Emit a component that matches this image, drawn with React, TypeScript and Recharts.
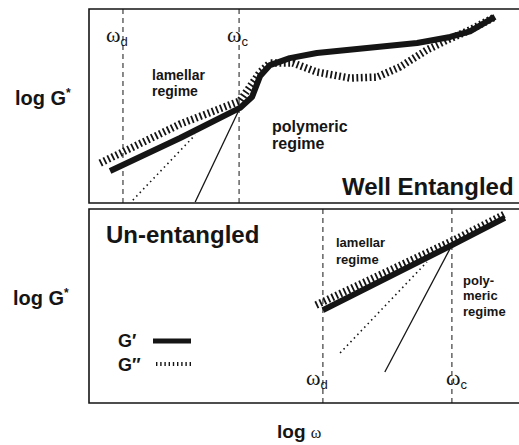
import React from "react";
import {
  ComposedChart,
  Line,
  XAxis,
  YAxis,
  ReferenceLine,
  ReferenceArea,
} from "recharts";

type Pt = { x: number; y: number };

// log ω runs 0..10 across each panel, log G* runs 0..10 bottom to top
const wellGp: Pt[] = [
  { x: 0.49, y: 1.65 },
  { x: 2.12, y: 3.35 },
  { x: 3.51, y: 4.9 },
  { x: 3.79, y: 5.46 },
  { x: 3.98, y: 6.55 },
  { x: 4.21, y: 7.11 },
  { x: 4.67, y: 7.47 },
  { x: 5.3, y: 7.73 },
  { x: 7.63, y: 8.25 },
  { x: 8.4, y: 8.56 },
  { x: 8.86, y: 8.85 },
  { x: 9.44, y: 9.59 },
];

const wellGpp: Pt[] = [
  { x: 0.26, y: 2.06 },
  { x: 2.12, y: 4.07 },
  { x: 3.51, y: 5.26 },
  { x: 3.98, y: 6.75 },
  { x: 4.21, y: 7.22 },
  { x: 4.74, y: 7.22 },
  { x: 5.3, y: 6.75 },
  { x: 6.07, y: 6.44 },
  { x: 6.7, y: 6.49 },
  { x: 7.23, y: 7.01 },
  { x: 7.86, y: 7.89 },
  { x: 8.33, y: 8.4 },
  { x: 8.86, y: 8.92 },
  { x: 9.44, y: 9.59 },
];

const wellSlope1: Pt[] = [
  { x: 1.02, y: 0.15 },
  { x: 2.47, y: 3.51 },
];
const wellSlope2: Pt[] = [
  { x: 2.47, y: 0.05 },
  { x: 3.51, y: 4.9 },
];

const unGp: Pt[] = [
  { x: 5.44, y: 4.79 },
  { x: 8.44, y: 8.14 },
  { x: 9.67, y: 9.54 },
];
const unGpp: Pt[] = [
  { x: 5.28, y: 5.05 },
  { x: 8.44, y: 8.35 },
  { x: 9.67, y: 9.74 },
];
const unSlope1: Pt[] = [
  { x: 5.84, y: 2.58 },
  { x: 7.86, y: 7.27 },
];
const unSlope2: Pt[] = [
  { x: 6.88, y: 1.6 },
  { x: 8.44, y: 8.14 },
];

const wellOmega = { d: 0.79, c: 3.49 };
const unOmega = { d: 5.44, c: 8.44 };

// the frame runs a little past the right edge of the page, so no right border shows
const X_MAX = 10.07;

const INK = "#151515";
const SANS = "'Liberation Sans', Arial, sans-serif";
const SERIF = "'Liberation Serif', 'Times New Roman', serif";

function Panel({
  top,
  gp,
  gpp,
  dotted,
  thin,
  omega,
}: {
  top: number;
  gp: Pt[];
  gpp: Pt[];
  dotted: Pt[];
  thin: Pt[];
  omega: { d: number; c: number };
}) {
  return (
    <div style={{ position: "absolute", left: 84, top: top - 5 }}>
      <ComposedChart
        width={443}
        height={204}
        margin={{ top: 5, right: 5, bottom: 5, left: 5 }}
      >
        <XAxis type="number" dataKey="x" domain={[0, X_MAX]} hide />
        <YAxis type="number" dataKey="y" domain={[0, 10]} hide />
        <ReferenceArea
          x1={0}
          x2={X_MAX}
          y1={0}
          y2={10}
          fill="none"
          stroke={INK}
          strokeWidth={1.6}
        />
        <ReferenceLine x={omega.d} stroke={INK} strokeDasharray="5 4" strokeWidth={1} />
        <ReferenceLine x={omega.c} stroke={INK} strokeDasharray="5 4" strokeWidth={1} />
        <Line
          data={dotted}
          dataKey="y"
          stroke={INK}
          strokeWidth={1.6}
          strokeDasharray="1.5 3.5"
          dot={false}
          isAnimationActive={false}
        />
        <Line
          data={thin}
          dataKey="y"
          stroke={INK}
          strokeWidth={1.3}
          dot={false}
          isAnimationActive={false}
        />
        <Line
          data={gpp}
          dataKey="y"
          stroke={INK}
          strokeWidth={7.5}
          strokeDasharray="1.8 2.6"
          dot={false}
          isAnimationActive={false}
        />
        <Line
          data={gp}
          dataKey="y"
          stroke={INK}
          strokeWidth={6}
          strokeLinejoin="round"
          dot={false}
          isAnimationActive={false}
        />
      </ComposedChart>
    </div>
  );
}

function Omega({ x, y, sub }: { x: number; y: number; sub: string }) {
  return (
    <text x={x} y={y} fill={INK}>
      <tspan fontFamily={SERIF} fontSize={22}>
        ω
      </tspan>
      <tspan fontFamily={SANS} fontSize={13} dy={4}>
        {sub}
      </tspan>
    </text>
  );
}

function LogG({ x, y }: { x: number; y: number }) {
  return (
    <text x={x} y={y} fill={INK} fontFamily={SANS} fontWeight="bold" fontSize={20}>
      log G
      <tspan fontSize={12} dy={-8}>
        *
      </tspan>
    </text>
  );
}

export default function App() {
  return (
    <div
      style={{
        position: "absolute",
        left: 0,
        top: 0,
        width: 519,
        height: 445,
        overflow: "hidden",
        background: "#fff",
      }}
    >
      <Panel
        top={9}
        gp={wellGp}
        gpp={wellGpp}
        dotted={wellSlope1}
        thin={wellSlope2}
        omega={wellOmega}
      />
      <Panel
        top={209}
        gp={unGp}
        gpp={unGpp}
        dotted={unSlope1}
        thin={unSlope2}
        omega={unOmega}
      />

      <svg
        width={519}
        height={445}
        style={{ position: "absolute", left: 0, top: 0, pointerEvents: "none" }}
      >
        <LogG x={15} y={105} />
        <LogG x={13} y={305} />

        <Omega x={106} y={42} sub="d" />
        <Omega x={227} y={42} sub="c" />
        <Omega x={306} y={385} sub="d" />
        <Omega x={446} y={385} sub="c" />

        <g fill={INK} fontFamily={SANS} fontWeight="bold">
          <text x={152} y={80} fontSize={14}>lamellar</text>
          <text x={152} y={96} fontSize={14}>regime</text>
          <text x={272} y={132} fontSize={16}>polymeric</text>
          <text x={272} y={149} fontSize={16}>regime</text>
          <text x={342} y={195} fontSize={24}>Well Entangled</text>

          <text x={106} y={243} fontSize={24}>Un-entangled</text>
          <text x={336} y={247} fontSize={13}>lamellar</text>
          <text x={336} y={264} fontSize={13}>regime</text>
          <text x={463} y={285} fontSize={13}>poly-</text>
          <text x={463} y={300} fontSize={13}>meric</text>
          <text x={463} y={316} fontSize={13}>regime</text>

          <text x={118} y={347} fontSize={18}>G′</text>
          <text x={118} y={371} fontSize={18}>G″</text>

          <text x={277} y={438} fontSize={19}>
            log{" "}
            <tspan fontFamily={SERIF} fontWeight="normal" fontSize={16}>
              ω
            </tspan>
          </text>
        </g>
        <line x1={153} y1={341} x2={191} y2={341} stroke={INK} strokeWidth={5} />
        <line
          x1={156}
          y1={364}
          x2={191}
          y2={364}
          stroke={INK}
          strokeWidth={4}
          strokeDasharray="1.4 2.8"
        />
      </svg>
    </div>
  );
}
